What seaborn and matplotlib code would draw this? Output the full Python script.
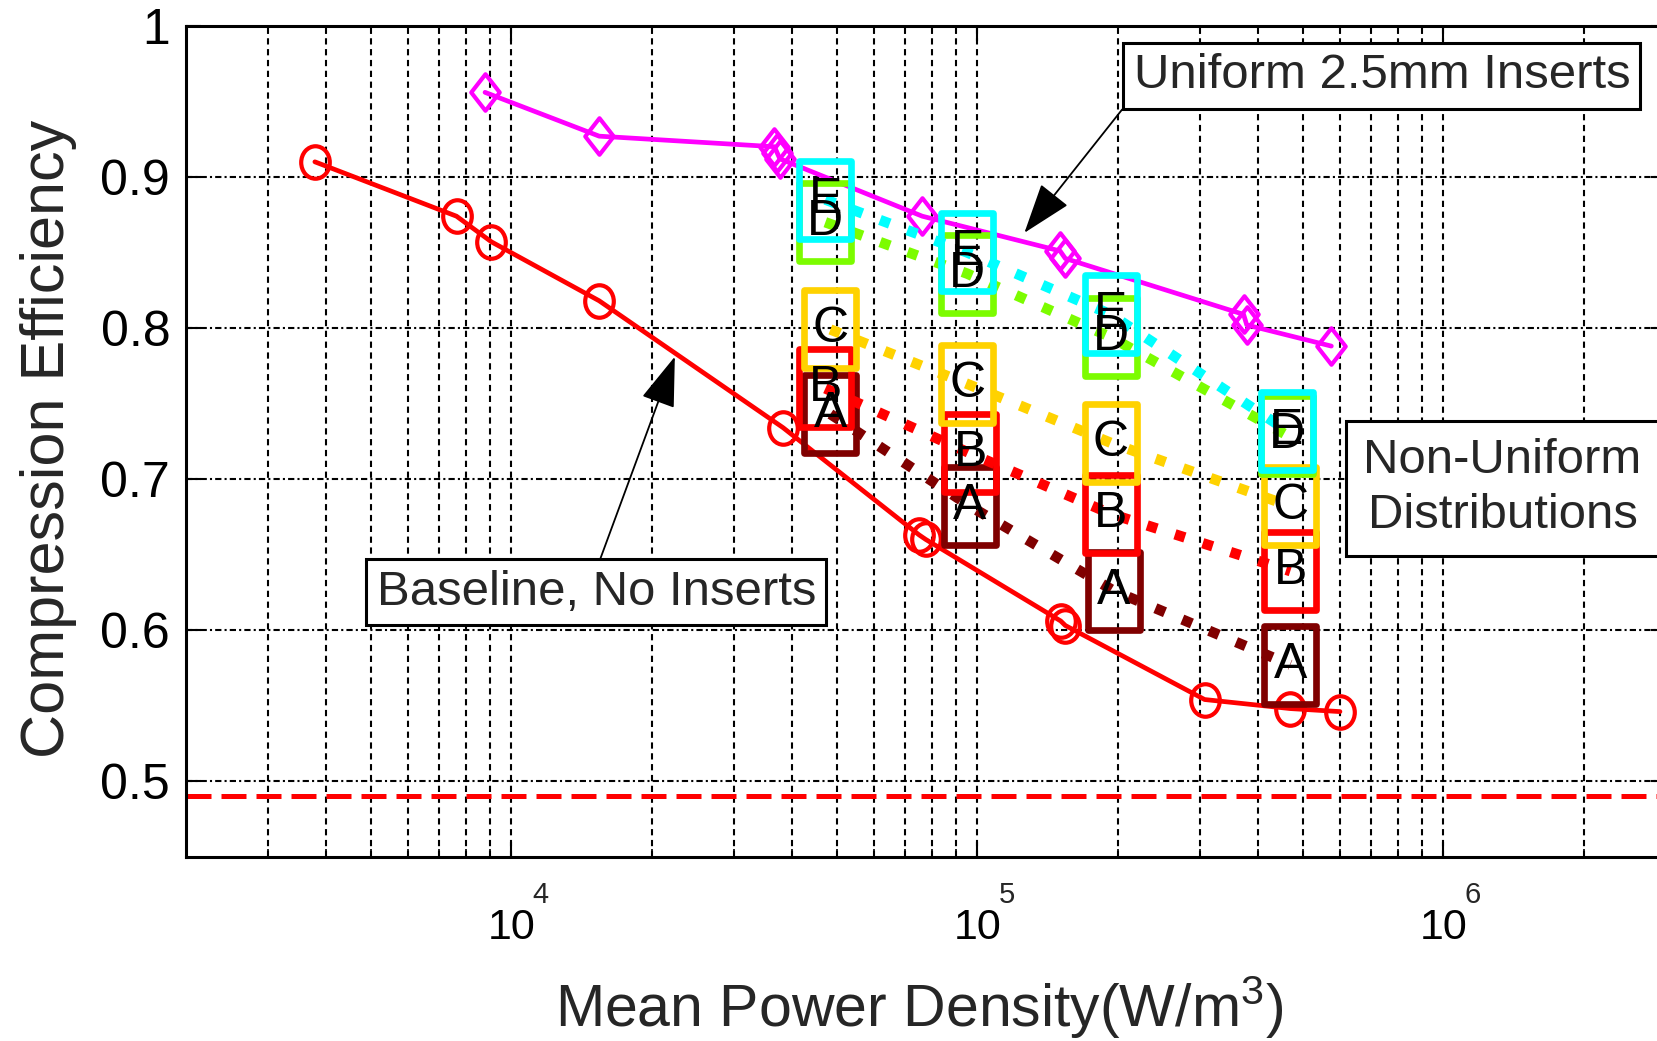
import numpy as np
import matplotlib
matplotlib.use("Agg")
import matplotlib.pyplot as plt
from matplotlib.path import Path
from matplotlib.ticker import LogLocator, NullFormatter
import seaborn as sns

# ---------------- data ----------------
base_power = [3790, 7630, 9070, 15440, 38300, 75000, 77500, 151000, 154500, 307400, 469500, 600000]
base_eff = [0.910, 0.874, 0.857, 0.818, 0.734, 0.663, 0.660, 0.606, 0.603, 0.554, 0.548, 0.546]

uni_power = [8785, 15440, 36700, 37200, 37700, 76200, 150500, 154500, 372700, 378600, 575000]
uni_eff = [0.956, 0.927, 0.920, 0.916, 0.912, 0.874, 0.851, 0.846, 0.809, 0.802, 0.788]

dist_labels = ["A", "B", "C", "D", "E"]
power_A = [48400, 96500, 196300, 469500]
eff_A = [0.743, 0.682, 0.626, 0.577]
power_B = [47200, 96500, 193200, 469500]
eff_B = [0.760, 0.717, 0.677, 0.639]
power_C = [48400, 95100, 193200, 469500]
eff_C = [0.799, 0.763, 0.724, 0.682]
power_D = [47200, 95100, 193200, 462000]
eff_D = [0.870, 0.836, 0.794, 0.729]
power_E = [47200, 95100, 193200, 462000]
eff_E = [0.885, 0.850, 0.809, 0.732]

limit_eff = 0.49

x_ticks = [1e4, 1e5, 1e6]
x_tick_base = ["10", "10", "10"]
x_tick_exp = ["4", "5", "6"]
y_ticks = [0.5, 0.6, 0.7, 0.8, 0.9, 1.0]
y_tick_labels = ["0.5", "0.6", "0.7", "0.8", "0.9", "1"]

x_label = r"Mean Power Density(W/m$^{3}$)"
y_label = "Compression Efficiency"
uniform_note = "Uniform 2.5mm Inserts"
baseline_note = "Baseline, No Inserts"
nonuniform_note = "Non-Uniform\nDistributions"

# ---------------- styling ----------------
dist_colors = {"A": "#800000", "B": "#FF0000", "C": "#FFD200", "D": "#7CFC00", "E": "#00FFFF"}
base_color = "#FF0000"
uni_color = "#FF00FF"

sns.set_theme(style="ticks")
plt.rcParams["font.family"] = ["Liberation Sans", "DejaVu Sans"]
plt.rcParams["mathtext.fontset"] = "custom"
plt.rcParams["mathtext.rm"] = "Liberation Sans"
plt.rcParams["mathtext.it"] = "Liberation Sans:italic"
plt.rcParams["mathtext.bf"] = "Liberation Sans:bold"

# marker shapes (slightly tall, as in the reference)
uc = Path.unit_circle()
ellipse_marker = Path(uc.vertices * np.array([0.88, 1.0]), uc.codes)
diamond_marker = Path([(0, -0.5), (0.39, 0), (0, 0.5), (-0.39, 0), (0, -0.5)],
                      [Path.MOVETO, Path.LINETO, Path.LINETO, Path.LINETO, Path.CLOSEPOLY])
rect_marker = Path([(-0.326, -0.5), (0.326, -0.5), (0.326, 0.5), (-0.326, 0.5), (-0.326, -0.5)],
                   [Path.MOVETO, Path.LINETO, Path.LINETO, Path.LINETO, Path.CLOSEPOLY])

fig = plt.figure(figsize=(16.57, 10.41), dpi=100)
ax = fig.add_axes([0.11195, 0.17714, 0.8933, 0.79798])
ax.set_xscale("log")
ax.set_xlim(2e3, 3e6)
ax.set_ylim(0.45, 1.0)

# grid
ax.xaxis.set_minor_locator(LogLocator(base=10, subs=np.arange(2, 10), numticks=30))
ax.xaxis.set_minor_formatter(NullFormatter())
ax.grid(True, which="both", axis="x", color="black", lw=1.5, ls=(0, (3, 2.2)))
ax.grid(True, which="major", axis="y", color="black", lw=1.5, ls=(0, (3, 1.5, 1, 1.5)))
ax.set_axisbelow(True)

# limit line
ax.axhline(limit_eff, color=base_color, lw=3.6, ls=(0, (5.0, 2.0)), zorder=2)

# baseline curve
sns.lineplot(x=base_power, y=base_eff, ax=ax, color=base_color, lw=3.4,
             marker=ellipse_marker, ms=23.4, markerfacecolor="none",
             markeredgecolor=base_color, markeredgewidth=3.0,
             estimator=None, sort=False, errorbar=None, zorder=3)

# uniform inserts curve
sns.lineplot(x=uni_power, y=uni_eff, ax=ax, color=uni_color, lw=3.4,
             marker=diamond_marker, ms=26.3, markerfacecolor="none",
             markeredgecolor=uni_color, markeredgewidth=3.0,
             estimator=None, sort=False, errorbar=None, zorder=3)

# non-uniform distributions
series = [("A", power_A, eff_A), ("B", power_B, eff_B), ("C", power_C, eff_C),
          ("D", power_D, eff_D), ("E", power_E, eff_E)]
for lab, px, ey in series:
    c = dist_colors[lab]
    sns.lineplot(x=px, y=ey, ax=ax, color=c, lw=7.5, linestyle=(0, (1, 1.8)),
                 dash_capstyle="butt", marker=rect_marker, ms=56.4,
                 markerfacecolor="none", markeredgecolor=c, markeredgewidth=4.8,
                 estimator=None, sort=False, errorbar=None, zorder=4)
for lab, px, ey in series:
    for xv, yv in zip(px, ey):
        ax.text(xv, yv, lab, ha="center", va="center", fontsize=36,
                color="black", zorder=5)

# annotations
box_kw = dict(boxstyle="square,pad=0.21", fc="white", ec="black", lw=2.2)
arrow_kw = dict(arrowstyle="-|>,head_length=1.6,head_width=0.55", mutation_scale=20,
                color="black", lw=1.3, shrinkA=0, shrinkB=0)
ax.annotate(uniform_note, xy=(126200, 0.863), xytext=(738000, 0.967),
            ha="center", va="center", fontsize=35.4, bbox=box_kw,
            arrowprops=dict(arrow_kw, relpos=(0.0, 0.07)), zorder=6)
ax.annotate(baseline_note, xy=(22440, 0.781), xytext=(15220, 0.625),
            ha="center", va="center", fontsize=35.4, bbox=box_kw,
            arrowprops=dict(arrow_kw, relpos=(0.5, 1.0)), zorder=6)
ax.text(1.34e6, 0.694, nonuniform_note, ha="center", va="center",
        multialignment="center", linespacing=1.3, fontsize=35.4,
        bbox=dict(boxstyle="square,pad=0.35", fc="white", ec="black", lw=2.2),
        zorder=6)

# ticks & labels (MATLAB-style exponents above the "10")
ax.set_xticks(x_ticks, x_tick_base)
for xv, ex in zip(x_ticks, x_tick_exp):
    ax.annotate(ex, xy=(xv, 0), xycoords=("data", "axes fraction"),
                xytext=(21, -33.4), textcoords="offset points",
                ha="center", va="baseline", fontsize=21, annotation_clip=False)
ax.set_yticks(y_ticks, y_tick_labels)
ax.tick_params(which="both", direction="in", top=True, right=True, colors="black")
ax.tick_params(which="major", length=11, width=1.5)
ax.tick_params(which="minor", length=6, width=1.2)
ax.tick_params(axis="x", labelsize=31, pad=37)
ax.tick_params(axis="y", labelsize=36, pad=11)
for s in ax.spines.values():
    s.set_linewidth(2.2)
    s.set_color("black")

ax.set_xlabel(x_label, fontsize=42.5)
ax.xaxis.label.set_va("baseline")
ax.xaxis.set_label_coords(0.4959, -0.2048)
ax.set_ylabel(y_label, fontsize=44)
ax.yaxis.set_label_coords(-0.0733, 0.503)

fig.savefig("out.png", dpi=100)
